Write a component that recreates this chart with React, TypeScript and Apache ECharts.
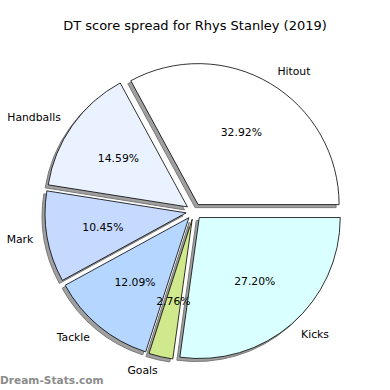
import React, { useEffect, useRef } from "react";
import * as echarts from "echarts";

const categories = ["Hitout", "Handballs", "Mark", "Tackle", "Goals", "Kicks"];
const shares = [32.92, 14.59, 10.45, 12.09, 2.76, 27.2];
const titleText = "DT score spread for Rhys Stanley (2019)";
const watermark = "Dream-Stats.com";

const palette = ["#ffffff", "#ebf2ff", "#c6d9ff", "#b5d6ff", "#d0e98c", "#d9ffff"];

const FONT = "DejaVu Sans";
const R = 141;
const CX = 194;
const CY = 211.5;
const OFFSET = 8;

export default function App() {
  const ref = useRef<HTMLDivElement>(null);
  useEffect(() => {
    if (!ref.current) return;
    const chart = echarts.init(ref.current, null, { renderer: "svg" });
    const data = categories.map((name, i) => ({ name, value: shares[i], selected: true }));
    const common = {
      type: "pie",
      startAngle: 0,
      clockwise: false,
      selectedMode: "multiple",
      selectedOffset: OFFSET,
      avoidLabelOverlap: false,
      emphasis: { disabled: true },
      labelLine: { show: false },
    };
    chart.setOption({
      animation: false,
      backgroundColor: "#ffffff",
      color: palette,
      title: {
        text: titleText,
        left: "center",
        top: 14,
        textStyle: { fontFamily: FONT, fontSize: 13, fontWeight: "normal", color: "#000" },
      },
      graphic: [
        {
          type: "text",
          left: 0,
          top: 374,
          style: {
            text: watermark,
            fontFamily: FONT,
            fontSize: 10.6,
            fontWeight: "bold",
            fill: "#8c8c8c",
          },
        },
      ],
      series: [
        {
          ...common,
          name: "shadow",
          silent: true,
          z: 1,
          center: [CX - 3, CY + 3],
          radius: [0, R],
          label: { show: false },
          itemStyle: { color: "#a0a0a0", borderColor: "#7a7a7a", borderWidth: 1 },
          data,
        },
        {
          ...common,
          name: "main",
          silent: true,
          z: 2,
          center: [CX, CY],
          radius: [0, R],
          itemStyle: { borderColor: "#000", borderWidth: 0.8 },
          label: {
            show: true,
            position: "outside",
            alignTo: "none",
            distanceToLabelLine: 0,
            fontFamily: FONT,
            fontSize: 10.8,
            color: "#000",
            formatter: "{b}",
          },
          labelLine: { show: false, length: R * 0.1, length2: 0 },
          data,
        },
        {
          ...common,
          name: "pct",
          silent: true,
          z: 3,
          center: [CX, CY],
          radius: [22, R],
          itemStyle: { color: "rgba(0,0,0,0)", borderWidth: 0 },
          label: {
            show: true,
            position: "inside",
            fontFamily: FONT,
            fontSize: 10.8,
            color: "#000",
            formatter: (p: any) => p.value.toFixed(2) + "%",
          },
          data,
        },
      ],
    });
    return () => chart.dispose();
  }, []);
  return (
    <div
      ref={ref}
      style={{ position: "fixed", left: 0, top: 0, width: 390, height: 390 }}
    />
  );
}
